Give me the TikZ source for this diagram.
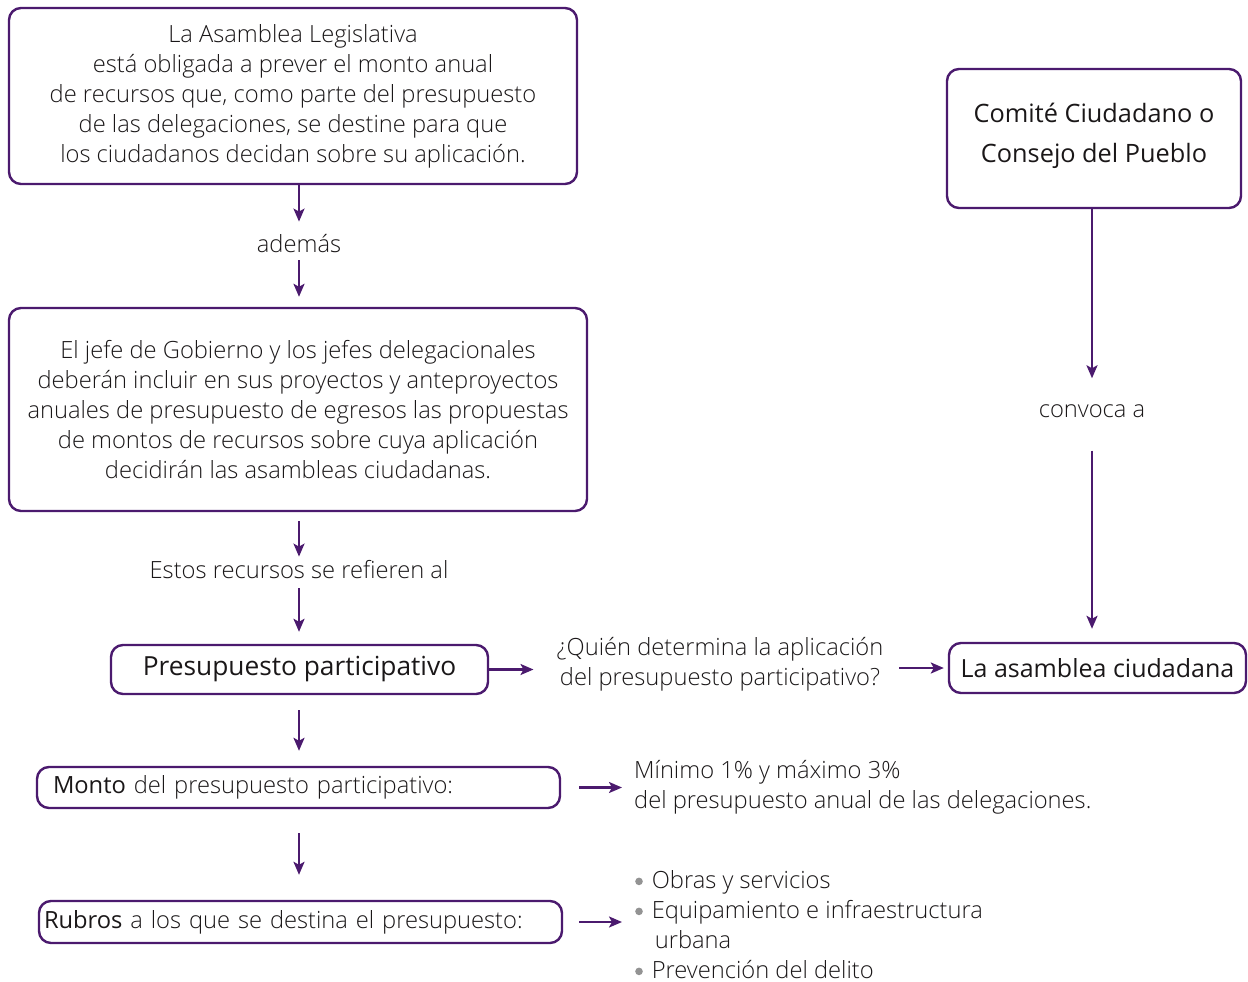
\documentclass[tikz,border=0pt]{standalone}
\usepackage{fontspec}
\setmainfont{Open Sans}[UprightFont={* Light},BoldFont={*}]
\usetikzlibrary{arrows.meta}
\definecolor{pur}{HTML}{4B1A6E}
\definecolor{txt}{HTML}{1A1718}
\newcommand\bul{\raisebox{3pt}{\tikz\fill[gray!85] (0,0) circle (3.8pt);}}
\tikzset{
  box/.style={draw=pur,line width=2.4pt,rounded corners=12pt,text=txt},
  arr/.style={draw=pur,line width=2.3pt,-{Stealth[length=13pt,width=11pt,inset=3pt]}},
  lbl/.style={text=txt,inner sep=0pt},
}
\begin{document}
\begin{tikzpicture}[x=1pt,y=-1pt,font=\fontsize{23.7}{30}\selectfont]
\useasboundingbox (0,0) rectangle (1248,982);
% boxes
\node[box,minimum width=568pt,minimum height=176pt,align=center] (b1) at (293,96)
 {La Asamblea Legislativa\\está obligada a prever el monto anual\\de recursos que, como parte del presupuesto\\de las delegaciones, se destine para que\\los ciudadanos decidan sobre su aplicación.};
\node[lbl] (ad) at (299,244) {además};
\node[box,minimum width=578pt,minimum height=203pt,align=center] (b2) at (298,409.5)
 {El jefe de Gobierno y los jefes delegacionales\\deberán incluir en sus proyectos y anteproyectos\\anuales de presupuesto de egresos las propuestas\\de montos de recursos sobre cuya aplicación\\decidirán las asambleas ciudadanas.};
\node[lbl] (er) at (299,570) {Estos recursos se refieren al};
\node[box,minimum width=377pt,minimum height=49pt,font=\fontsize{26.3}{30}\selectfont\bfseries] (pp) at (299.5,669.5) {Presupuesto participativo};
\node[lbl,align=center] (q) at (720,664.5) {¿Quién determina la aplicación\\del presupuesto participativo?};
\node[box,minimum width=297pt,minimum height=50pt,font=\fontsize{25}{30}\selectfont\bfseries] (ac) at (1097.5,668) {La asamblea ciudadana};
\node[box,minimum width=294pt,minimum height=139pt,align=center,font=\fontsize{25.3}{40}\selectfont\bfseries] (cc) at (1094,138.5) {\raisebox{0pt}[\height][\dimexpr\depth+8pt\relax]{\begin{tabular}{@{}c@{}}Comité Ciudadano o\\Consejo del Pueblo\end{tabular}}};
\node[lbl] (cv) at (1092,411) {convoca a};
\node[box,minimum width=523pt,minimum height=41pt,text width=491pt,align=left,inner xsep=16pt,inner ysep=4pt] (mo) at (298.5,787.5) {\textbf{Monto} del presupuesto participativo:};
\node[lbl,align=left,anchor=north west] (mi) at (634,760) {Mínimo 1\% y máximo 3\%\\del presupuesto anual de las delegaciones.};
\node[box,minimum width=523pt,minimum height=42pt,text width=513pt,align=left,inner xsep=5pt,inner ysep=4pt] (ru) at (300.5,922) {\textbf{Rubros} a los que se destina el presupuesto:};
\node[lbl,align=left,anchor=north west] (li) at (635,870) {\bul\hspace{9pt}Obras y servicios\\\bul\hspace{9pt}Equipamiento e infraestructura\\\hspace{19.6pt}urbana\\\bul\hspace{9pt}Prevención del delito};
% arrows
\draw[arr,shorten >=13pt] (b1.south -| ad) -- (ad.north);
\draw[arr,shorten <=7pt,shorten >=10pt] (ad.south) -- (b2.north -| ad);
\draw[arr,shorten <=9pt,shorten >=4pt] (b2.south -| er) -- (er.north);
\draw[arr,shorten <=9pt,shorten >=12pt] (er.south) -- (pp.north -| er);
\draw[arr,shorten >=23pt] (pp.east) -- (pp.east -| q.west);
\draw[arr,shorten <=16pt,shorten >=4pt] (q.east |- ac.west) -- (ac.west);
\draw[arr,shorten >=26pt] (cc.south -| cv) -- (cv.north);
\draw[arr,shorten <=33pt,shorten >=13pt] (cv.south) -- (ac.north -| cv);
\draw[arr,shorten <=15pt,shorten >=15pt] (pp.south -| er) -- (mo.north -| er);
\draw[arr,shorten <=18pt,shorten >=12pt] (mo.east) -- (mo.east -| mi.west);
\draw[arr,shorten <=24pt,shorten >=25pt] (mo.south -| er) -- (ru.north -| er);
\draw[arr,shorten <=16pt,shorten >=13pt] (ru.east) -- (ru.east -| li.west);
\end{tikzpicture}
\end{document}
